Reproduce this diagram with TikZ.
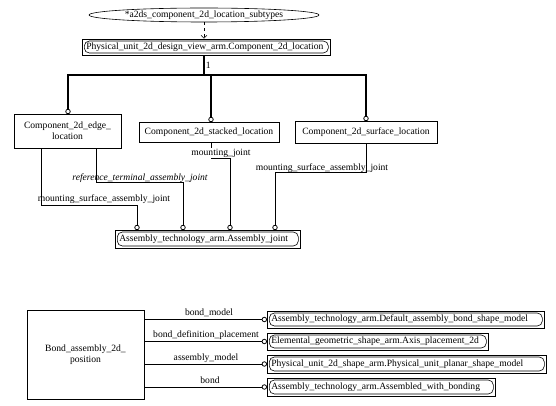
\documentclass[tikz,border=0pt]{standalone}
\usepackage{fontspec}
\setmainfont{Liberation Serif}
\usetikzlibrary{shapes.geometric,positioning,arrows.meta}

\tikzset{
  entity/.style={draw, rectangle, align=center, inner sep=2pt},
  refbox/.style={draw, rectangle, anchor=west, align=left, inner xsep=4pt,
    inner ysep=1pt, minimum height=17pt,
    path picture={\draw[rounded corners=5pt]
      ([shift={(2pt,-2pt)}]path picture bounding box.north west) rectangle
      ([shift={(-2pt,2pt)}]path picture bounding box.south east);}},
  sub/.style={line width=1.6pt},
  dot/.style={draw, circle, fill=white, line width=0.8pt, inner sep=0pt, minimum size=4.5pt},
  lbl/.style={inner sep=1pt}
}

\begin{document}
\begin{tikzpicture}[x=1pt,y=-1pt,line width=0.6pt,font=\fontsize{9.6}{11}\selectfont]
\useasboundingbox (0,0) rectangle (556,406);

% supertype select and its subtypes
\node[draw, ellipse, inner sep=0pt, minimum width=230pt, minimum height=14pt] (subtypes) at (204,15) {*a2ds\_component\_2d\_location\_subtypes};
\node[refbox, minimum height=16pt, text width=240pt] (loc) at (82,47) {Physical\_unit\_2d\_design\_view\_arm.Component\_2d\_location};
\draw[dashed, -{Straight Barb[length=3pt,width=6pt]}] (subtypes.south) -- (subtypes.south |- loc.north);

\node[entity, minimum width=107pt, minimum height=34pt] (edge) at (67.5,131) {Component\_2d\_edge\_\\location};
\node[entity, minimum width=140pt, minimum height=20pt] (stacked) at (209,132) {Component\_2d\_stacked\_location};
\node[entity, minimum width=142pt, minimum height=22pt] (surface) at (366,132) {Component\_2d\_surface\_location};

\node[dot] (s1) at (68,111.5) {};
\node[dot] (s2) at (211,119.5) {};
\node[dot] (s3) at (366,118.5) {};

\draw[sub] (subtypes.south |- loc.south) -- ++(0,20) coordinate (fork) node[lbl, pos=0.5, right] {1};
\draw[sub] (s1) |- (fork) -| (s3);
\draw[sub] (s2) -- (s2 |- fork);

% assembly joints
\node[refbox, minimum height=18pt, text width=177pt] (joint) at (115,239) {Assembly\_technology\_arm.Assembly\_joint};
\node[dot] (j1) at (137,227.5) {};
\node[dot] (j2) at (183,227.5) {};
\node[dot] (j3) at (230,227.5) {};
\node[dot] (j4) at (275,227.5) {};

\draw ([xshift=-26.5pt]edge.south) -- ++(0,57) -| (j1);
\draw ([xshift=28.5pt]edge.south) -- ++(0,34) -| (j2);
\draw ([xshift=2pt]stacked.south) -- ++(0,16) -| (j3);
\draw (surface.south) -- ++(0,29) -| (j4);

\node[lbl] (msaj) at (104,199) {mounting\_surface\_assembly\_joint};
\node[lbl] (rtaj) at (140,178) {\itshape reference\_terminal\_assembly\_joint};
\node[lbl, fill=white] (mj) at (221,153) {mounting\_joint};
\node[lbl] (msaj2) at (322,168) {mounting\_surface\_assembly\_joint};

% bond assembly
\node[entity, minimum width=117pt, minimum height=89pt] (bond) at (85.5,354.5) {Bond\_assembly\_2d\_\\position};

\node[refbox, text width=269pt] (shape) at (267,319.5) {Assembly\_technology\_arm.Default\_assembly\_bond\_shape\_model};
\node[refbox, text width=213pt] (axis) at (267,341.5) {Elemental\_geometric\_shape\_arm.Axis\_placement\_2d};
\node[refbox, minimum height=18pt, text width=271pt] (planar) at (267,364) {Physical\_unit\_2d\_shape\_arm.Physical\_unit\_planar\_shape\_model};
\node[refbox, minimum height=18pt, text width=220pt] (bonding) at (267,387) {Assembly\_technology\_arm.Assembled\_with\_bonding};

\node[dot, left=0pt of shape] (b1) {};
\node[dot, left=0pt of axis] (b2) {};
\node[dot, left=0pt of planar] (b3) {};
\node[dot, left=0pt of bonding] (b4) {};

\draw (bond.east |- b1) -- (b1);
\draw (bond.east |- b2) -- (b2);
\draw (bond.east |- b3) -- (b3);
\draw (bond.east |- b4) -- (b4);

\node[lbl] (bm) at (209,313) {bond\_model};
\node[lbl] (bdp) at (206,335.5) {bond\_definition\_placement};
\node[lbl] (am) at (206,358) {assembly\_model};
\node[lbl] (bd) at (210,380.5) {bond};
\end{tikzpicture}
\end{document}
